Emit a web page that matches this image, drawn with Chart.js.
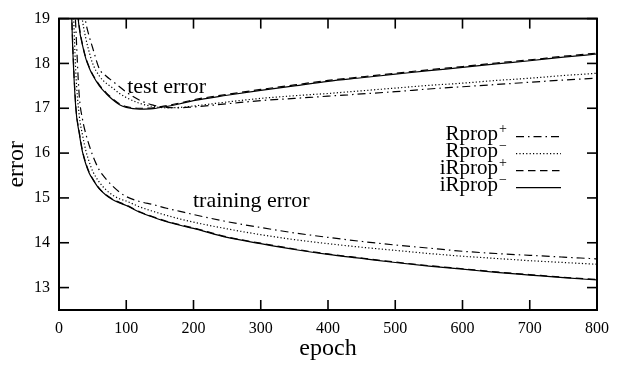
<!DOCTYPE html>
<html>
<head>
<meta charset="utf-8">
<script src="https://cdn.jsdelivr.net/npm/chart.js@4"></script>
<style>
html,body{margin:0;padding:0;background:#fff;}
canvas{display:block;}
</style>
</head>
<body>
<canvas id="c" width="621" height="366"></canvas>
<script>
// ---- data ----
const epochs = [10,15,20,25,30,35,40,45,50,60,70,80,90,100,120,140,160,180,200,250,300,350,400,450,500,550,600,650,700,750,800];
const xTicks = [0,100,200,300,400,500,600,700,800];
const yTicks = [13,14,15,16,17,18,19];

const methodBase = ['Rprop','Rprop','iRprop','iRprop'];
const methodSup  = ['+','\u2212','+','\u2212'];

// test error
const testRpropPlus   = [27,25,23,21.5,20.3,19.4,18.9,18.6,18.35,17.88,17.72,17.6,17.48,17.36,17.18,17.07,17.02,17.01,17.03,17.10,17.17,17.22,17.27,17.32,17.37,17.43,17.48,17.53,17.58,17.63,17.67];
const testRpropMinus  = [26,24,22,20.6,19.6,18.95,18.55,18.25,18.0,17.72,17.56,17.45,17.33,17.24,17.11,17.04,17.01,17.02,17.05,17.14,17.22,17.28,17.33,17.39,17.45,17.51,17.56,17.62,17.67,17.73,17.78];
const testIRpropPlus  = [25,22.6,20.9,19.65,18.85,18.42,18.12,17.92,17.76,17.52,17.35,17.21,17.10,17.04,17.00,17.01,17.06,17.12,17.19,17.31,17.42,17.52,17.62,17.70,17.78,17.86,17.93,18.01,18.08,18.16,18.23];
const testIRpropMinus = [25,22.5,20.8,19.6,18.8,18.4,18.1,17.9,17.74,17.5,17.33,17.19,17.08,17.02,16.98,16.99,17.04,17.10,17.17,17.29,17.40,17.50,17.60,17.68,17.76,17.84,17.91,17.99,18.06,18.14,18.21];

// training error
const trainRpropPlus   = [26,23,20.5,18.8,17.3,16.75,16.42,16.17,15.95,15.62,15.42,15.26,15.13,15.03,14.92,14.85,14.77,14.70,14.63,14.47,14.34,14.22,14.12,14.03,13.95,13.88,13.81,13.76,13.72,13.68,13.64];
const trainRpropMinus  = [25,22,19.8,17.8,16.85,16.4,16.05,15.8,15.6,15.35,15.18,15.06,14.98,14.93,14.80,14.70,14.61,14.53,14.46,14.31,14.18,14.07,13.98,13.90,13.83,13.76,13.70,13.65,13.60,13.56,13.52];
const trainIRpropPlus  = [24,21.1,18.6,17.05,16.48,16.05,15.77,15.57,15.43,15.21,15.07,14.97,14.90,14.84,14.69,14.58,14.48,14.40,14.33,14.13,13.99,13.86,13.75,13.66,13.57,13.49,13.42,13.35,13.29,13.23,13.18];
const trainIRpropMinus = [24,21,18.5,17.0,16.45,16.02,15.75,15.55,15.42,15.20,15.06,14.96,14.89,14.83,14.68,14.57,14.47,14.39,14.32,14.12,13.98,13.85,13.74,13.65,13.56,13.48,13.41,13.34,13.28,13.22,13.17];

const annotTexts = ['test error','training error'];
const annotX = [160, 286];
const annotY = [17.35, 14.79];

// ---- styles ----
const dashes = [[8,4,1.5,4],[1.2,2.2],[7.5,4.5],[]];
const FONT = '"Liberation Serif", "Times New Roman", serif';

const testSeries = [testRpropPlus, testRpropMinus, testIRpropPlus, testIRpropMinus];
const trainSeries = [trainRpropPlus, trainRpropMinus, trainIRpropPlus, trainIRpropMinus];

function toPts(vals){ return epochs.map((e,i)=>({x:e,y:vals[i]})); }

const datasets = [];
for (let m = 0; m < 4; m++) {
  const common = {
    borderColor:'#000', borderWidth:1.2, borderDash:dashes[m],
    pointRadius:0, fill:false, cubicInterpolationMode:'monotone',
    order: 4 - m
  };
  datasets.push(Object.assign({label: methodBase[m]+methodSup[m]+' test', data: toPts(testSeries[m])}, common));
  datasets.push(Object.assign({label: methodBase[m]+methodSup[m]+' training', data: toPts(trainSeries[m])}, common));
}

const framePlugin = {
  id:'frame',
  afterDatasetsDraw(chart){
    const {ctx, chartArea:a, scales:{x, y}} = chart;
    ctx.save();
    ctx.strokeStyle = '#000';
    ctx.setLineDash([]);
    const ln = (x1,y1,x2,y2)=>{ctx.beginPath();ctx.moveTo(x1,y1);ctx.lineTo(x2,y2);ctx.stroke();};
    ctx.lineWidth = 1.6;
    xTicks.forEach(v=>{
      const px = x.getPixelForValue(v);
      ln(px, a.bottom, px, a.bottom-10);
      ln(px, a.top, px, a.top+10);
    });
    yTicks.forEach(v=>{
      const py = y.getPixelForValue(v);
      ln(a.left, py, a.left+10, py);
      ln(a.right, py, a.right-10, py);
    });
    ctx.lineWidth = 2;
    ctx.strokeRect(a.left, a.top, a.right-a.left, a.bottom-a.top);

    // annotations
    ctx.fillStyle = '#000';
    ctx.font = '22px ' + FONT;
    ctx.textAlign = 'center';
    ctx.textBaseline = 'alphabetic';
    annotTexts.forEach((t,i)=>{
      ctx.fillText(t, x.getPixelForValue(annotX[i]), y.getPixelForValue(annotY[i]));
    });

    // legend
    const textRight = a.right - 90;
    const lx1 = a.right - 81, lx2 = a.right - 36;
    for (let m = 0; m < 4; m++) {
      const ly = a.top + 118 + m*17;
      ctx.font = '14px ' + FONT;
      ctx.textAlign = 'right';
      const supW = ctx.measureText(methodSup[m]).width;
      ctx.fillText(methodSup[m], textRight, ly + 3.5 - 7);
      ctx.font = '21px ' + FONT;
      ctx.fillText(methodBase[m], textRight - supW - 1, ly + 3.5);
      ctx.lineWidth = 1.2;
      ctx.setLineDash(dashes[m]);
      ln(lx1, ly, lx2, ly);
      ctx.setLineDash([]);
    }
    ctx.restore();
  }
};

new Chart(document.getElementById('c'), {
  type:'line',
  data:{ datasets },
  options:{
    responsive:false,
    animation:false,
    layout:{ padding:{ left:0, right:24, top:8, bottom:0 } },
    plugins:{ legend:{display:false}, tooltip:{enabled:false} },
    scales:{
      x:{
        type:'linear', min:0, max:800,
        grid:{display:false, drawTicks:false},
        border:{display:false},
        ticks:{ stepSize:100, autoSkip:false, maxRotation:0, padding:9, color:'#000', font:{family:FONT, size:16} },
        afterBuildTicks(s){ s.ticks = xTicks.map(v=>({value:v})); },
        afterFit(s){ s.height = 56; },
        title:{ display:true, text:'epoch', color:'#000', font:{family:FONT, size:24, lineHeight:1}, padding:{top:0, bottom:5} }
      },
      y:{
        type:'linear', min:12.5, max:19,
        grid:{display:false, drawTicks:false},
        border:{display:false},
        ticks:{ padding:9, color:'#000', font:{family:FONT, size:16} },
        afterBuildTicks(s){ s.ticks = yTicks.map(v=>({value:v})); },
        afterFit(s){ s.width = 59; },
        title:{ display:true, text:'error', color:'#000', font:{family:FONT, size:24, lineHeight:1}, padding:{top:5, bottom:0} }
      }
    }
  },
  plugins:[framePlugin]
});
</script>
</body>
</html>
